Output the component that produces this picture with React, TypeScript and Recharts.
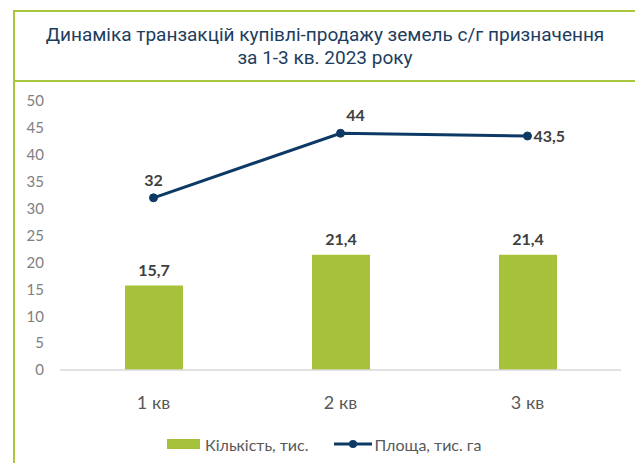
import React from "react"
import { ComposedChart, Bar, Line, XAxis, YAxis, Legend, LabelList } from "recharts"

const quarters = ["1 кв", "2 кв", "3 кв"]
const countValues = [15.7, 21.4, 21.4]
const areaValues = [32, 44, 43.5]
const yTicks = [0, 5, 10, 15, 20, 25, 30, 35, 40, 45, 50]

const GREEN = "#a5c23a"
const NAVY = "#0d3a64"
const BORDER = "#a8c63c"

const chartData = quarters.map((q, i) => ({
  quarter: q,
  count: countValues[i],
  area: areaValues[i],
}))

const fmt = (v: number) => String(v).replace(".", ",")

const labelFont = { fontFamily: "Lato", fontSize: 16, fontWeight: 700, fill: "#404040" }

function LineLabel(props: any) {
  const { x, y, value, index } = props
  if (index === 2) {
    return (
      <text x={x + 6} y={y} dy="0.35em" textAnchor="start" {...labelFont}>
        {fmt(value)}
      </text>
    )
  }
  const dx = index === 1 ? 15 : 0
  return (
    <text x={x + dx} y={y - 12} textAnchor="middle" {...labelFont}>
      {fmt(value)}
    </text>
  )
}

function LegendContent() {
  const txt = { fontFamily: "Lato", fontSize: 16, color: "#595959" }
  return (
    <div style={{ display: "flex", alignItems: "center", height: 30, paddingLeft: 167 }}>
      <span style={{ width: 33, height: 10, background: GREEN, display: "inline-block" }} />
      <span style={{ ...txt, marginLeft: 5 }}>Кількість, тис.</span>
      <svg width={38} height={12} style={{ marginLeft: 25 }}>
        <line x1={0} y1={6} x2={38} y2={6} stroke={NAVY} strokeWidth={3} />
        <circle cx={19} cy={6} r={4} fill={NAVY} />
      </svg>
      <span style={{ ...txt, marginLeft: 3 }}>Площа, тис. га</span>
    </div>
  )
}

export default function App() {
  return (
    <div style={{ position: "absolute", left: 0, top: 0, width: 635, height: 463, background: "#fff", overflow: "hidden" }}>
      <div
        style={{
          position: "absolute",
          left: 13,
          top: 10,
          width: 640,
          height: 470,
          borderLeft: `2px solid ${BORDER}`,
          borderTop: `2px solid ${BORDER}`,
        }}
      />
      <div
        style={{
          position: "absolute",
          left: 15,
          top: 12,
          width: 620,
          height: 68,
          borderBottom: `2px solid ${BORDER}`,
          display: "flex",
          flexDirection: "column",
          justifyContent: "center",
          alignItems: "center",
          fontFamily: "Roboto",
          fontSize: 19,
          lineHeight: "23px",
          color: "#1d3d5e",
          textAlign: "center",
        }}
      >
        <div>Динаміка транзакцій купівлі-продажу земель с/г призначення</div>
        <div>за 1-3 кв. 2023 року</div>
      </div>
      <div style={{ position: "absolute", left: 0, top: 0 }}>
        <ComposedChart
          width={635}
          height={463}
          data={chartData}
          margin={{ top: 101, right: 14, left: 0, bottom: 4 }}
        >
          <XAxis
            dataKey="quarter"
            height={59}
            tickLine={false}
            tickSize={0}
            tickMargin={26}
            axisLine={{ stroke: "#d9d9d9", strokeWidth: 1.5 }}
            tick={{ fill: "#595959", fontSize: 18, fontFamily: "Lato" }}
          />
          <YAxis
            width={60}
            domain={[0, 50]}
            ticks={yTicks}
            interval={0}
            axisLine={false}
            tickLine={false}
            tickSize={0}
            tickMargin={16}
            tick={{ fill: "#808080", fontSize: 15, fontFamily: "Lato" }}
          />
          <Legend verticalAlign="bottom" height={30} wrapperStyle={{ left: 0, width: 635 }} content={<LegendContent />} />
          <Bar dataKey="count" fill={GREEN} barSize={58} isAnimationActive={false}>
            <LabelList dataKey="count" position="top" offset={10} formatter={(v: any) => fmt(v)} style={labelFont} />
          </Bar>
          <Line
            dataKey="area"
            stroke={NAVY}
            strokeWidth={3}
            dot={{ r: 4, fill: NAVY, stroke: NAVY, strokeWidth: 1 }}
            isAnimationActive={false}
          >
            <LabelList dataKey="area" content={<LineLabel />} />
          </Line>
        </ComposedChart>
      </div>
    </div>
  )
}
